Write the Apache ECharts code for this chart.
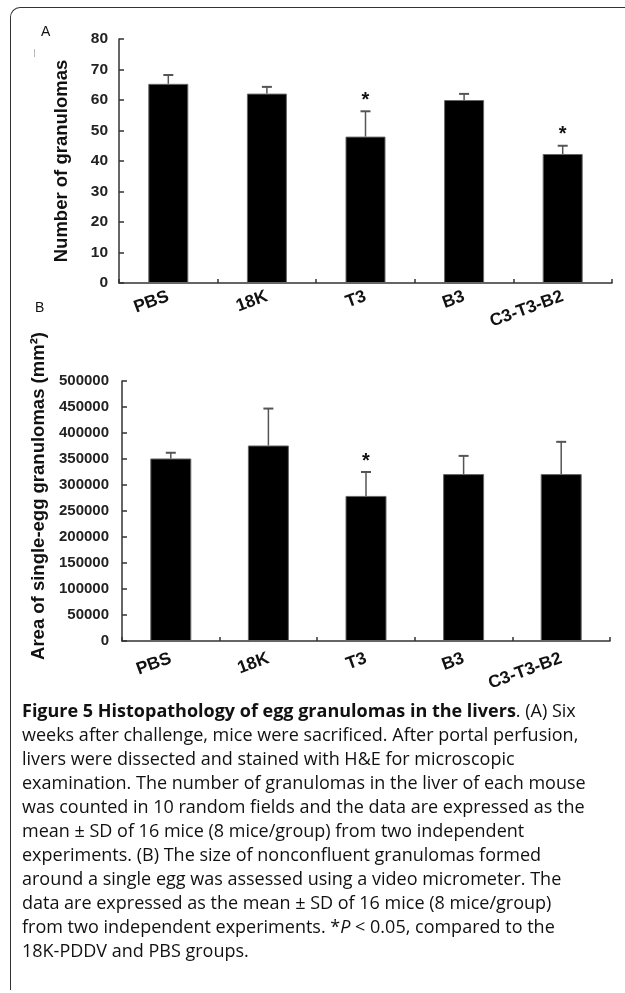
<!DOCTYPE html>
<html>
<head>
<meta charset="utf-8">
<script src="https://cdn.jsdelivr.net/npm/echarts@6/dist/echarts.min.js"></script>
<style>
html,body{margin:0;padding:0;background:#fff;}
#frame{position:absolute;left:10px;top:7px;width:700px;height:983px;border-top:1.5px solid #333;border-left:1.5px solid #333;border-top-left-radius:10px;box-sizing:border-box;}
#chart{position:absolute;left:0;top:0;width:625px;height:993px;}
#caption{position:absolute;left:22px;top:698px;font-family:"Open Sans",sans-serif;font-size:18px;line-height:24px;color:#111;white-space:nowrap;}
#caption b{font-weight:700;}
</style>
</head>
<body>
<div id="frame"></div>
<div id="chart"></div>
<div id="caption"><b>Figure 5 Histopathology of egg granulomas in the livers</b>. (A) Six<br>weeks after challenge, mice were sacrificed. After portal perfusion,<br>livers were dissected and stained with H&amp;E for microscopic<br>examination. The number of granulomas in the liver of each mouse<br>was counted in 10 random fields and the data are expressed as the<br>mean ± SD of 16 mice (8 mice/group) from two independent<br>experiments. (B) The size of nonconfluent granulomas formed<br>around a single egg was assessed using a video micrometer. The<br>data are expressed as the mean ± SD of 16 mice (8 mice/group)<br>from two independent experiments. *<i>P</i> &lt; 0.05, compared to the<br>18K-PDDV and PBS groups.</div>
<script>
// ---- data ----
const categories = ['PBS', '18K', 'T3', 'B3', 'C3-T3-B2'];
const countMean = [65.3, 62.1, 48.0, 60.0, 42.3];
const countSD   = [2.9, 2.2, 8.3, 2.0, 2.7];
const countStar = [0, 0, 1, 0, 1];
const areaMean  = [351000, 376000, 279000, 321000, 321000];
const areaSD    = [11000, 71000, 46000, 35000, 62000];
const areaStar  = [0, 0, 1, 0, 0];
const countTicks = {min: 0, max: 80, interval: 10};
const areaTicks  = {min: 0, max: 500000, interval: 50000};

const FONT = '"Liberation Sans", Arial, sans-serif';
const chart = echarts.init(document.getElementById('chart'), null, {renderer: 'canvas'});

function errData(mean, sd, star) {
  return mean.map((m, i) => [i, m, sd[i], star[i]]);
}
function errItem(params, api) {
  const x = api.value(0), y = api.value(1), e = api.value(2), s = api.value(3);
  const p0 = api.coord([x, y]);
  const p1 = api.coord([x, y + e]);
  const hw = 5;
  const children = [
    {type: 'line', shape: {x1: p0[0], y1: p0[1], x2: p1[0], y2: p1[1]}, style: {stroke: '#555', lineWidth: 1.5}},
    {type: 'line', shape: {x1: p1[0] - hw, y1: p1[1], x2: p1[0] + hw, y2: p1[1]}, style: {stroke: '#555', lineWidth: 2}}
  ];
  if (s) {
    children.push({type: 'text', x: p1[0], y: p1[1] - 1,
      style: {text: '*', font: 'bold 20px ' + FONT, fill: '#111', align: 'center', verticalAlign: 'bottom'}});
  }
  return {type: 'group', children};
}

function xAxisFor(grid, margin) {
  return {
    gridIndex: grid, type: 'category', data: categories,
    axisLine: {lineStyle: {color: '#333', width: 1.5}},
    axisTick: {show: true, inside: true, length: 4, lineStyle: {color: '#333', width: 1.5}},
    axisLabel: {rotate: 20, interval: 0, margin: margin, color: '#111', fontFamily: FONT, fontWeight: 'bold', fontSize: 17.5}
  };
}
const yAxisCommon = {
  type: 'value',
  splitLine: {show: false},
  axisLine: {show: true, lineStyle: {color: '#333', width: 1.5}},
  axisTick: {show: true, inside: true, length: 5, lineStyle: {color: '#333', width: 1.5}},
  nameLocation: 'middle', nameRotate: 90,
  nameTextStyle: {fontFamily: FONT, fontWeight: 'bold', fontSize: 18.5, color: '#111'}
};
const plain = v => String(v);

chart.setOption({
  animation: false,
  graphic: [
    {type: 'text', left: 41, top: 25, style: {text: 'A', font: '14px ' + FONT, fill: '#111'}},
    {type: 'rect', left: 34, top: 49, shape: {width: 1, height: 8}, style: {fill: '#bbb'}},
    {type: 'text', left: 35, top: 301, style: {text: 'B', font: '14px ' + FONT, fill: '#111'}}
  ],
  grid: [
    {left: 119, right: 13, top: 39, height: 244},
    {left: 122, right: 15, top: 381, height: 260}
  ],
  xAxis: [xAxisFor(0, 13), xAxisFor(1, 17)],
  yAxis: [
    Object.assign({}, yAxisCommon, {gridIndex: 0, min: countTicks.min, max: countTicks.max, interval: countTicks.interval,
      name: 'Number of granulomas', nameGap: 48,
      axisLabel: {margin: 11, color: '#222', fontFamily: FONT, fontWeight: 'bold', fontSize: 15.5, formatter: plain}}),
    Object.assign({}, yAxisCommon, {gridIndex: 1, min: areaTicks.min, max: areaTicks.max, interval: areaTicks.interval,
      name: 'Area of single-egg granulomas (mm²)', nameGap: 68,
      nameTextStyle: Object.assign({}, yAxisCommon.nameTextStyle, {padding: [0, 0, 0, 30]}),
      axisLabel: {margin: 13, color: '#222', fontFamily: FONT, fontWeight: 'bold', fontSize: 15, formatter: plain}})
  ],
  series: [
    {type: 'bar', xAxisIndex: 0, yAxisIndex: 0, data: countMean, barWidth: 40,
      itemStyle: {color: '#000', borderColor: '#666', borderWidth: 1}},
    {type: 'custom', xAxisIndex: 0, yAxisIndex: 0, data: errData(countMean, countSD, countStar), renderItem: errItem, z: 3},
    {type: 'bar', xAxisIndex: 1, yAxisIndex: 1, data: areaMean, barWidth: 41,
      itemStyle: {color: '#000', borderColor: '#666', borderWidth: 1}},
    {type: 'custom', xAxisIndex: 1, yAxisIndex: 1, data: errData(areaMean, areaSD, areaStar), renderItem: errItem, z: 3}
  ]
});
</script>
</body>
</html>
